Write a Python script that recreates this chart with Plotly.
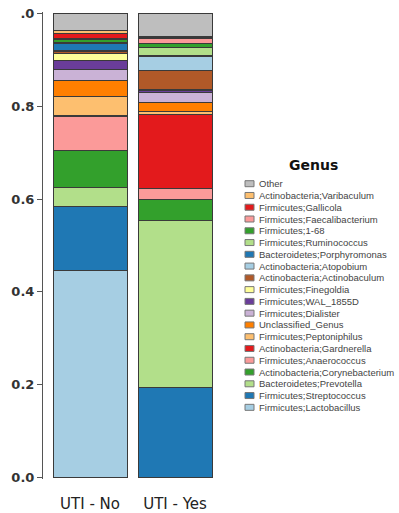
import plotly.graph_objects as go

# Sample groups on the x axis
groups = ["UTI - No", "UTI - Yes"]

# Genera, stacked from the bottom of each bar to the top
genera = [
    "Firmicutes;Lactobacillus",
    "Firmicutes;Streptococcus",
    "Bacteroidetes;Prevotella",
    "Actinobacteria;Corynebacterium",
    "Firmicutes;Anaerococcus",
    "Actinobacteria;Gardnerella",
    "Firmicutes;Peptoniphilus",
    "Unclassified_Genus",
    "Firmicutes;Dialister",
    "Firmicutes;WAL_1855D",
    "Firmicutes;Finegoldia",
    "Actinobacteria;Actinobaculum",
    "Actinobacteria;Atopobium",
    "Bacteroidetes;Porphyromonas",
    "Firmicutes;Ruminococcus",
    "Firmicutes;1-68",
    "Firmicutes;Faecalibacterium",
    "Firmicutes;Gallicola",
    "Actinobacteria;Varibaculum",
    "Other",
]

colors = [
    "#a6cee3", "#1f78b4", "#b2df8a", "#33a02c", "#fb9a99", "#e31a1c",
    "#fdbf6f", "#ff7f00", "#cab2d6", "#6a3d9a", "#ffff99", "#b15928",
    "#a6cee3", "#1f78b4", "#b2df8a", "#33a02c", "#fb9a99", "#e31a1c",
    "#fdbf6f", "#bebebe",
]

# Relative abundance per genus (same order as genera)
uti_no = [
    0.446, 0.137, 0.043, 0.078, 0.074, 0.002, 0.042, 0.034, 0.024, 0.019,
    0.014, 0.005, 0.003, 0.014, 0.002, 0.007, 0.002, 0.010, 0.007, 0.037,
]
uti_yes = [
    0.000, 0.194, 0.359, 0.046, 0.024, 0.160, 0.006, 0.019, 0.022, 0.003,
    0.003, 0.041, 0.030, 0.002, 0.018, 0.008, 0.010, 0.004, 0.002, 0.049,
]

y_ticks = [0.0, 0.2, 0.4, 0.6, 0.8, 1.0]
y_tick_text = ["0.0", "0.2", "0.4", "0.6", "0.8", ".0"]

W, H = 399, 513
ML, MR, MT, MB = 43, 184, 12, 34
PW, PH = W - ML - MR, H - MT - MB


def px_x(px):
    return (px - ML) / PW


def px_y(py):
    return (H - MB - py) / PH


fig = go.Figure()
for name, col, a, b in zip(genera, colors, uti_no, uti_yes):
    fig.add_trace(go.Bar(
        x=groups, y=[a, b], name=name,
        marker=dict(color=col, line=dict(color="#3a3a3a", width=1)),
        width=0.87, showlegend=False,
    ))

# Hand-built legend: compact rows, top entry is the top of the stack
shapes = []
annotations = [dict(
    text="<b>Genus</b>", x=px_x(313), y=px_y(165), xref="paper", yref="paper",
    showarrow=False, xanchor="center", yanchor="middle",
    font=dict(family="DejaVu Sans", size=14, color="#111"),
)]
row0, step = 183.7, 11.77
for i, (name, col) in enumerate(zip(genera[::-1], colors[::-1])):
    yc = row0 + i * step
    shapes.append(dict(
        type="rect", xref="paper", yref="paper",
        x0=px_x(245), x1=px_x(254), y0=px_y(yc + 3), y1=px_y(yc - 3),
        fillcolor=col, line=dict(color="#777", width=1),
    ))
    annotations.append(dict(
        text=name, x=px_x(257), y=px_y(yc), xref="paper", yref="paper",
        showarrow=False, xanchor="left", yanchor="middle",
        font=dict(family="Liberation Sans", size=9.5, color="#444"),
    ))

fig.update_layout(
    barmode="stack",
    width=W, height=H,
    margin=dict(l=ML, r=MR, t=MT, b=MB, pad=0, autoexpand=False),
    paper_bgcolor="white", plot_bgcolor="white",
    shapes=shapes, annotations=annotations,
    xaxis=dict(
        range=[-0.553, 1.47], showline=False, showgrid=False, zeroline=False,
        ticks="", ticklabelstandoff=14, automargin=False,
        tickfont=dict(family="DejaVu Sans", size=15, color="#222"),
    ),
    yaxis=dict(
        range=[-0.003, 1.003], tickvals=y_ticks, ticktext=y_tick_text,
        showline=True, linecolor="#555", linewidth=1, automargin=False,
        ticks="outside", ticklen=5, tickcolor="#555",
        showgrid=False, zeroline=False,
        tickfont=dict(family="DejaVu Sans", size=13, color="#333", weight="bold"),
    ),
)

fig.write_html("out.html")
